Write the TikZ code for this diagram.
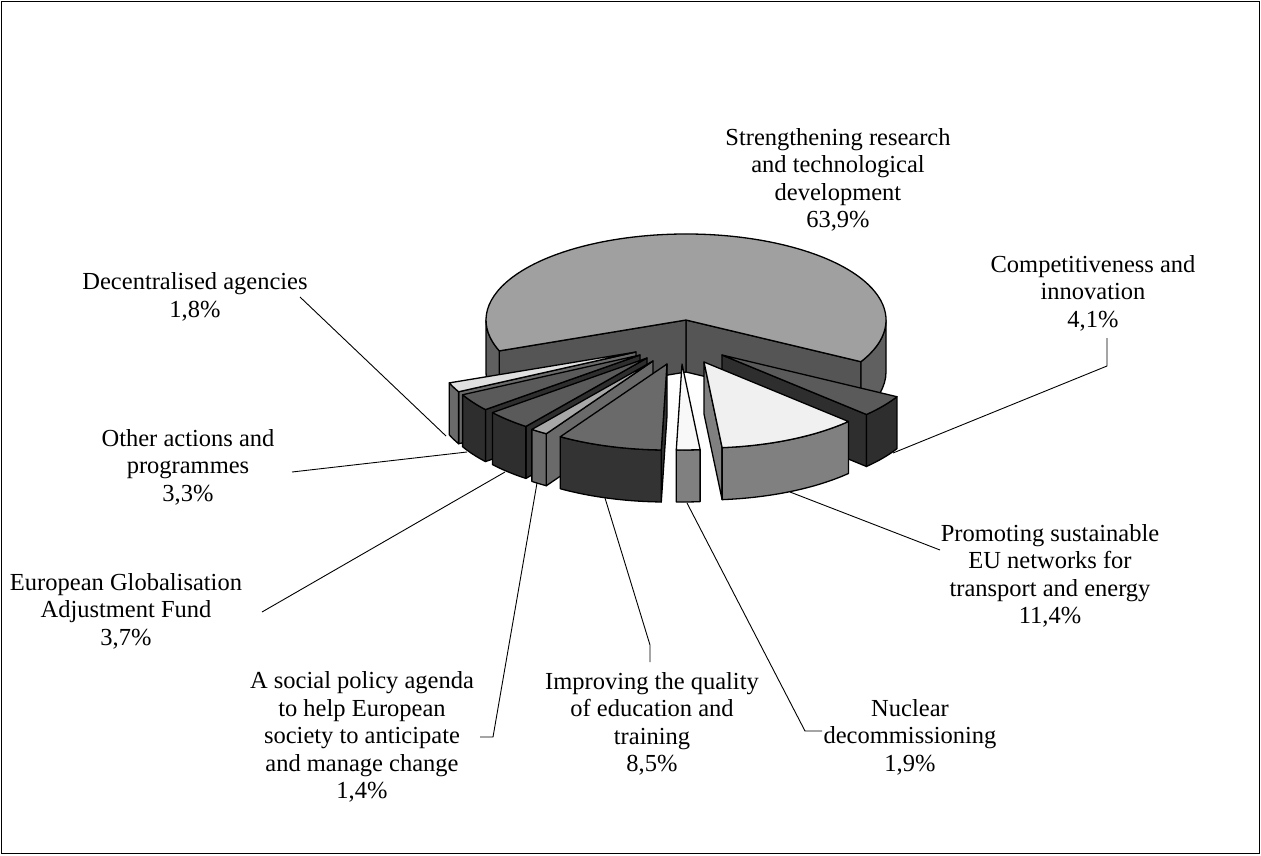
\documentclass[tikz,border=0pt]{standalone}
\usepackage{fontspec}
\setmainfont{Liberation Serif}
\usetikzlibrary{calc}
\newcommand\topface[5]{\filldraw[pie,fill=#5] (#1,#2) -- ++(#3:200pt and 86pt) arc[start angle=#3,end angle=#4,x radius=200pt,y radius=86pt] -- cycle;}
\newcommand\cutwall[4]{\filldraw[pie,fill=#4] (#1,#2) -- ++(0,-52) -- ++(#3:200pt and 86pt) -- ++(0,52) -- cycle;}
\newcommand\outerwall[5]{\filldraw[pie,fill=#5] (#1,#2) ++(#3:200pt and 86pt) arc[start angle=#3,end angle=#4,x radius=200pt,y radius=86pt] -- ++(0,-52) arc[start angle=#4,end angle=#3,x radius=200pt,y radius=86pt] -- cycle;}
\definecolor{cA}{HTML}{A0A0A0}
\definecolor{cB}{HTML}{555555}
\definecolor{cC}{HTML}{606060}
\definecolor{cD}{HTML}{5A5A5A}
\definecolor{cE}{HTML}{2E2E2E}
\definecolor{cF}{HTML}{F0F0F0}
\definecolor{cG}{HTML}{808080}
\definecolor{cH}{HTML}{F8F8F8}
\definecolor{cI}{HTML}{6A6A6A}
\definecolor{cJ}{HTML}{333333}
\definecolor{cK}{HTML}{A8A8A8}
\definecolor{cL}{HTML}{E0E0E0}
\begin{document}
\begin{tikzpicture}[x=1pt,y=1pt,
  pie/.style={draw=black,line width=1.3pt,line join=round},
  lbl/.style={font=\fontsize{24.5}{27.4}\selectfont,align=center,inner sep=0pt},
  leader/.style={draw=black,line width=0.9pt}]
\useasboundingbox (0,0) rectangle (1261,-855);
\draw[line width=1pt] (1,-1) rectangle (1259,-853);
% big slice
\cutwall{686}{-320}{-29}{cB}
\cutwall{686}{-320}{201.04}{cB}
\outerwall{686}{-320}{180}{201.04}{cC}
\outerwall{686}{-320}{-29}{0}{cC}
\topface{686}{-320}{-29}{201.04}{cA}
% Decentralised
\cutwall{636}{-352}{-152.48}{cI}
\outerwall{636}{-352}{-158.96}{-152.48}{cI}
\topface{636}{-352}{-158.96}{-152.48}{cL}
% Other
\cutwall{640}{-355}{-140.6}{cE}
\outerwall{640}{-355}{-152.48}{-140.6}{cE}
\topface{640}{-355}{-152.48}{-140.6}{cD}
% Globalisation
\cutwall{647}{-358}{-127.28}{cE}
\outerwall{647}{-358}{-140.6}{-127.28}{cE}
\topface{647}{-358}{-140.6}{-127.28}{cD}
% Social
\cutwall{653}{-361}{-122.24}{cI}
\outerwall{653}{-361}{-127.28}{-122.24}{cI}
\topface{653}{-361}{-127.28}{-122.24}{cK}
% Competitiveness
\cutwall{722}{-355}{-43.76}{cE}
\outerwall{722}{-355}{-43.76}{-29}{cE}
\topface{722}{-355}{-43.76}{-29}{cD}
% Promoting
\cutwall{704}{-362}{-84.8}{cG}
\outerwall{704}{-362}{-84.8}{-43.76}{cG}
\topface{704}{-362}{-84.8}{-43.76}{cF}
% Education
\cutwall{667}{-364}{-91.64}{cJ}
\outerwall{667}{-364}{-122.24}{-91.64}{cJ}
\topface{667}{-364}{-122.24}{-91.64}{cI}
% Nuclear
\outerwall{682}{-364}{-91.64}{-84.8}{cG}
\topface{682}{-364}{-91.64}{-84.8}{cH}
% labels
\node[lbl] (strength) at (838,-180) {Strengthening research\\and technological\\development\\63,9\%};
\node[lbl] (compet) at (1093,-293) {Competitiveness and\\innovation\\4,1\%};
\node[lbl] (promot) at (1050,-576) {Promoting sustainable\\EU networks for\\transport and energy\\11,4\%};
\node[lbl] (nuclear) at (910,-737) {Nuclear\\decommissioning\\1,9\%};
\node[lbl] (educ) at (652,-724) {Improving the quality\\of education and\\training\\8,5\%};
\node[lbl] (social) at (362,-737) {A social policy agenda\\to help European\\society to anticipate\\and manage change\\1,4\%};
\node[lbl] (glob) at (126,-611) {European Globalisation\\Adjustment Fund\\3,7\%};
\node[lbl] (other) at (188,-467) {Other actions and\\programmes\\3,3\%};
\node[lbl] (decent) at (195,-297) {Decentralised agencies\\1,8\%};
% leader coordinates
\coordinate (decA) at (300,-297);   \coordinate (decB) at (446,-436);
\coordinate (othA) at (292,-472);   \coordinate (othB) at (467,-452);
\coordinate (gloA) at (262,-612);   \coordinate (gloB) at (505,-472);
\coordinate (socA) at (480,-737);   \coordinate (socK) at (493,-737); \coordinate (socB) at (537,-483);
\coordinate (eduA) at (650,-662);   \coordinate (eduK) at (650,-645); \coordinate (eduB) at (605,-498);
\coordinate (nucA) at (822,-731);   \coordinate (nucK) at (805,-731); \coordinate (nucB) at (687,-503);
\coordinate (proA) at (940,-550);   \coordinate (proB) at (790,-492);
\coordinate (comA) at (1107,-338);  \coordinate (comK) at (1107,-366); \coordinate (comB) at (893,-453);
\draw[leader] (decA) -- (decB);
\draw[leader] (othA) -- (othB);
\draw[leader] (gloA) -- (gloB);
\draw[leader] (socA) -- (socK) -- (socB);
\draw[leader] (eduA) -- (eduK) -- (eduB);
\draw[leader] (nucA) -- (nucK) -- (nucB);
\draw[leader] (proA) -- (proB);
\draw[leader] (comA) -- (comK) -- (comB);
\end{tikzpicture}
\end{document}
